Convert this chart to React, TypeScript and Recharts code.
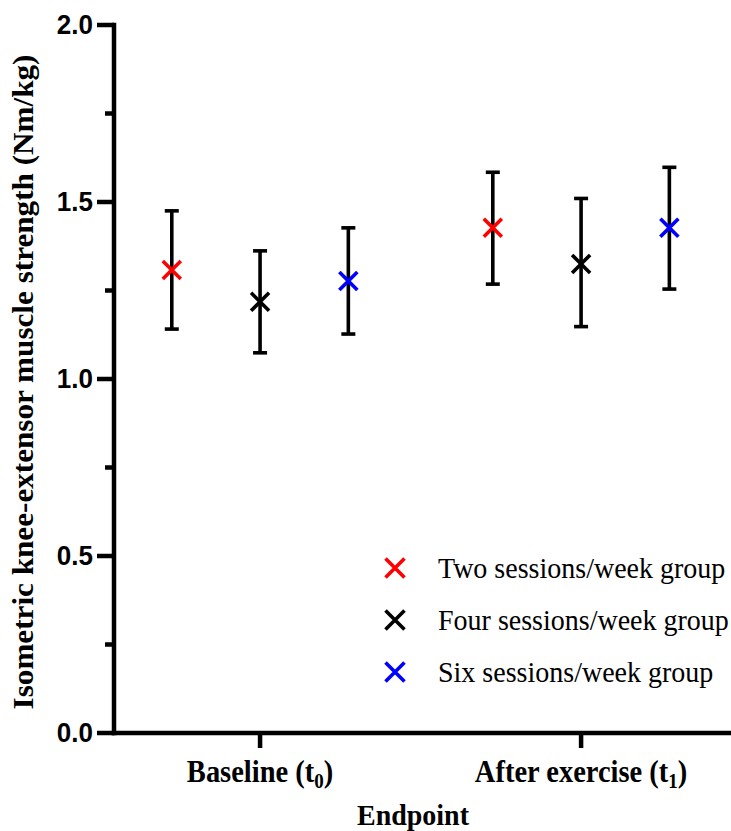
import React from 'react';
import { ScatterChart, Scatter, XAxis, YAxis, ErrorBar, Legend, Label } from 'recharts';

// ---- data ----
const groupLabels = ['Baseline (t', 'After exercise (t'];
const groupSubs = ['0', '1'];
const groupPos = [1, 2];
const seriesNames = ['Two sessions/week group', 'Four sessions/week group', 'Six sessions/week group'];
const seriesColors = ['#ff0000', '#000000', '#0000ff'];
const seriesDodge = [-0.275, 0, 0.275];

const twoMean = [1.308, 1.427];
const twoLow = [1.141, 1.268];
const twoHigh = [1.475, 1.584];

const fourMean = [1.218, 1.325];
const fourLow = [1.074, 1.148];
const fourHigh = [1.362, 1.51];

const sixMean = [1.277, 1.427];
const sixLow = [1.127, 1.254];
const sixHigh = [1.427, 1.598];

const yTicks = [0, 0.25, 0.5, 0.75, 1, 1.25, 1.5, 1.75, 2];
const yMajorLabels = ['0.0', '0.5', '1.0', '1.5', '2.0'];

const means = [twoMean, fourMean, sixMean];
const lows = [twoLow, fourLow, sixLow];
const highs = [twoHigh, fourHigh, sixHigh];

const seriesData = seriesNames.map((_, s) =>
  groupPos.map((g, i) => ({
    x: g + seriesDodge[s],
    y: means[s][i],
    err: [means[s][i] - lows[s][i], highs[s][i] - means[s][i]],
  }))
);

const SERIF = '"Liberation Serif", "Times New Roman", serif';
const SANS = '"Liberation Sans", Arial, sans-serif';
const STRETCH = 1.075;

const makeMark = (color: string) => (props: any) => {
  const { cx, cy } = props;
  const r = 9;
  return (
    <path
      d={`M${cx - r},${cy - r}L${cx + r},${cy + r}M${cx - r},${cy + r}L${cx + r},${cy - r}`}
      stroke={color}
      strokeWidth={3.6}
      fill="none"
    />
  );
};

const YTick = (props: any) => {
  const { x, y, payload } = props;
  const v = payload.value;
  const idx = Math.round(v * 2);
  const major = Math.abs(v * 2 - idx) < 1e-6;
  return (
    <g>
      <line x1={x - (major ? 17 : 9)} x2={x} y1={y} y2={y} stroke="#000" strokeWidth={4.5} />
      {major && (
        <g transform={`translate(${x - 21},${y}) scale(1,${STRETCH})`}>
          <text
            x={0}
            y={0}
            textAnchor="end"
            dominantBaseline="central"
            fontFamily={SANS}
            fontWeight="bold"
            fontSize={26}
            fill="#000"
          >
            {yMajorLabels[idx]}
          </text>
        </g>
      )}
    </g>
  );
};

const XTick = (props: any) => {
  const { x, y, payload } = props;
  const i = groupPos.indexOf(payload.value);
  return (
    <g>
      <line x1={x} x2={x} y1={y} y2={y + 15} stroke="#000" strokeWidth={4.5} />
      <g transform={`translate(${x},${y + 49}) scale(1,${STRETCH})`}>
        <text x={0} y={0} textAnchor="middle" fontFamily={SERIF} fontWeight="bold" fontSize={28.5} fill="#000">
          <tspan>{groupLabels[i]}</tspan>
          <tspan dy={6} fontSize={19}>{groupSubs[i]}</tspan>
          <tspan dy={-6}>)</tspan>
        </text>
      </g>
    </g>
  );
};

const LegendContent = (props: any) => {
  return (
    <div style={{ display: 'flex', flexDirection: 'column' }}>
      {seriesNames.map((name, s) => (
        <div key={name} style={{ height: 52, display: 'flex', alignItems: 'center' }}>
          <svg width={24} height={24} style={{ display: 'block' }}>
            <path d="M2.5,2.5L21.5,21.5M2.5,21.5L21.5,2.5" stroke={seriesColors[s]} strokeWidth={3.6} fill="none" />
          </svg>
          <span
            style={{
              marginLeft: 31,
              fontFamily: SERIF,
              fontSize: 28,
              color: '#000',
              lineHeight: 1,
              whiteSpace: 'nowrap',
              display: 'inline-block',
              transform: `scaleY(${STRETCH})`,
            }}
          >
            {name}
          </span>
        </div>
      ))}
    </div>
  );
};

export default function App() {
  return (
    <div style={{ position: 'absolute', left: 0, top: 0, width: 731, height: 831, background: '#fff' }}>
      <ScatterChart width={731} height={831} margin={{ top: 25, right: 0, bottom: 0, left: 0 }}>
        <XAxis
          type="number"
          dataKey="x"
          domain={[0.545, 2.467]}
          ticks={groupPos}
          allowDataOverflow
          height={98}
          tickSize={0}
          tickMargin={0}
          tickLine={false}
          tick={<XTick />}
          axisLine={{ stroke: '#000', strokeWidth: 4.5, strokeLinecap: 'square' }}
        >
          <Label
            content={() => (
              <g transform={`translate(413,825) scale(1,${STRETCH})`}>
                <text x={0} y={0} textAnchor="middle" fontFamily={SERIF} fontWeight="bold" fontSize={28} fill="#000">
                  Endpoint
                </text>
              </g>
            )}
          />
        </XAxis>
        <YAxis
          type="number"
          dataKey="y"
          domain={[0, 2]}
          ticks={yTicks}
          interval={0}
          width={114}
          tickSize={0}
          tickMargin={0}
          tickLine={false}
          tick={<YTick />}
          axisLine={{ stroke: '#000', strokeWidth: 4.5, strokeLinecap: 'square' }}
        >
          <Label
            content={() => (
              <g transform={`translate(23,382) rotate(-90) scale(${STRETCH},1)`}>
                <text
                  x={0}
                  y={0}
                  textAnchor="middle"
                  dominantBaseline="central"
                  fontFamily={SERIF}
                  fontWeight="bold"
                  fontSize={29}
                  fill="#000"
                >
                  Isometric knee-extensor muscle strength (Nm/kg)
                </text>
              </g>
            )}
          />
        </YAxis>
        {seriesNames.map((name, s) => (
          <Scatter
            key={name}
            name={name}
            data={seriesData[s]}
            dataKey="y"
            fill={seriesColors[s]}
            shape={makeMark(seriesColors[s])}
            isAnimationActive={false}
          >
            <ErrorBar dataKey="err" direction="y" width={7} stroke="#000" strokeWidth={3.6} isAnimationActive={false} />
          </Scatter>
        ))}
        <Legend
          layout="horizontal"
          align="center"
          verticalAlign="middle"
          content={<LegendContent />}
          wrapperStyle={{ position: 'absolute', left: 383, top: 542, width: 348, height: 160 }}
        />
      </ScatterChart>
    </div>
  );
}
